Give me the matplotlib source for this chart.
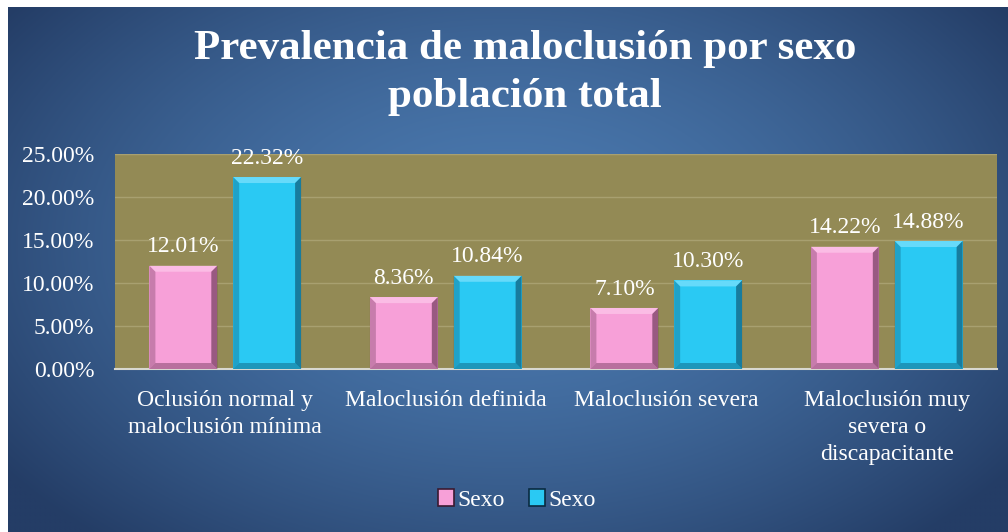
import numpy as np
import matplotlib
matplotlib.use('Agg')
import matplotlib.pyplot as plt
from matplotlib.patches import Polygon, Patch

plt.rcParams['font.family'] = ['Liberation Serif', 'DejaVu Serif']

categories = ['Oclusión normal y\nmaloclusión mínima', 'Maloclusión definida',
              'Maloclusión severa', 'Maloclusión muy\nsevera o\ndiscapacitante']
serie_1 = [12.01, 8.36, 7.10, 14.22]
serie_2 = [22.32, 10.84, 10.30, 14.88]
series_names = ['Sexo', 'Sexo']
yticks = [0, 5, 10, 15, 20, 25]

pink = '#f7a0d8'
cyan = '#2ac9f3'
olive = '#938a55'

fig = plt.figure(figsize=(10.08, 5.32), dpi=100, facecolor='white')

# background gradient
bg = fig.add_axes([8/1008, 0, 1 - 8/1008, 1 - 7/532])
yy, xx = np.mgrid[0:1:300j, 0:1:600j]
d = np.sqrt(((xx - 0.5) / 0.62) ** 2 + ((yy - 0.55) / 0.75) ** 2)
d = np.clip(d, 0, 1)
c_in = np.array([0x4b, 0x7a, 0xb0]) / 255
c_out = np.array([0x24, 0x3d, 0x66]) / 255
img = c_in[None, None, :] * (1 - d[..., None] ** 1.6) + c_out[None, None, :] * d[..., None] ** 1.6
bg.imshow(img, aspect='auto', extent=[0, 1, 0, 1], origin='lower')
bg.axis('off')

ax = fig.add_axes([115/1008, 1 - 369/532, 882/1008, 215/532])
ax.set_facecolor(olive)
x = np.arange(len(categories))
w = 0.308
off = 0.19
b1 = ax.bar(x - off, serie_1, w, color=pink, zorder=3)
b2 = ax.bar(x + off, serie_2, w, color=cyan, zorder=3)

ax.set_xlim(-0.5, len(categories) - 0.5)
ax.set_ylim(0, 25)
ax.set_yticks(yticks)
ax.set_yticklabels(['%.2f%%' % v for v in yticks])
ax.set_xticks(x)
ax.set_xticklabels(categories, linespacing=1.38)
ax.tick_params(colors='white', labelsize=17, length=0)
ax.tick_params(axis='y', pad=15)
ax.tick_params(axis='x', labelsize=17, pad=15)
ax.yaxis.grid(True, color='#a8a070', lw=1, zorder=0)
for s in ['top', 'right', 'left']:
    ax.spines[s].set_visible(False)
ax.spines['bottom'].set_color('#d8d8d0')
ax.spines['bottom'].set_linewidth(1.5)

# bevel effect
px = 1 / 220.5
py = 25 / 215.0
bv = 6
for bars, base in ((b1, pink), (b2, cyan)):
    dark = '#5a2a48' if base == pink else '#0b4a66'
    light = '#ffd0ee' if base == pink else '#8fe6ff'
    for r in bars:
        x0, y0 = r.get_x(), r.get_y()
        x1, y1 = x0 + r.get_width(), y0 + r.get_height()
        dx, dy = bv * px, bv * py
        ax.add_patch(Polygon([(x0, y1), (x1, y1), (x1 - dx, y1 - dy), (x0 + dx, y1 - dy)],
                             color=light, alpha=0.6, lw=0, zorder=4))
        ax.add_patch(Polygon([(x1, y1), (x1, y0), (x1 - dx, y0 + dy), (x1 - dx, y1 - dy)],
                             color=dark, alpha=0.6, lw=0, zorder=4))
        ax.add_patch(Polygon([(x0, y1), (x0, y0), (x0 + dx, y0 + dy), (x0 + dx, y1 - dy)],
                             color=dark, alpha=0.3, lw=0, zorder=4))
        ax.add_patch(Polygon([(x0, y0), (x1, y0), (x1 - dx, y0 + dy), (x0 + dx, y0 + dy)],
                             color=dark, alpha=0.4, lw=0, zorder=4))
        ax.annotate('%.2f%%' % r.get_height(), (x0 + r.get_width() / 2, y1),
                    xytext=(0, 6), textcoords='offset points', ha='center', va='bottom',
                    color='white', fontsize=17, zorder=5)

fig.text(525/1008, 1 - 73/532, 'Prevalencia de maloclusión por sexo\npoblación total',
         ha='center', va='center', color='white', fontsize=31, fontweight='bold',
         linespacing=1.35)

handles = [Patch(facecolor=pink, edgecolor='#3a1a30', lw=1.2),
           Patch(facecolor=cyan, edgecolor='#0a2a40', lw=1.2)]
fig.legend(handles, series_names, loc='center', bbox_to_anchor=(517/1008, 1 - 500/532),
           ncol=2, frameon=False, fontsize=17, labelcolor='white',
           handlelength=0.7, handleheight=0.7, handletextpad=0.15, columnspacing=1.0)

fig.savefig('out.png', dpi=100, facecolor=fig.get_facecolor())
